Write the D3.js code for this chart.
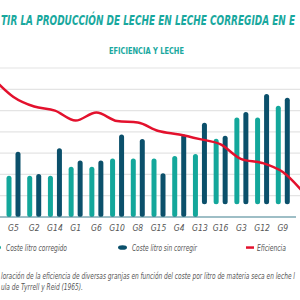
<!DOCTYPE html>
<html>
<head>
<meta charset="utf-8">
<script src="https://cdn.jsdelivr.net/npm/d3@7"></script>
<style>
  body { margin: 0; background: #fff; }
  svg { display: block; }
  text { font-family: "Liberation Sans Narrow", "DejaVu Sans Condensed", sans-serif; }
</style>
</head>
<body>
<svg id="chart" width="300" height="300"></svg>
<script>
// granjas (eje x)
var granjas = ["G5","G2","G14","G1","G6","G10","G8","G15","G4","G13","G16","G3","G12","G9"];
// coste litro corregido / sin corregir
var costeCorregido = [19.4,19.4,19.4,23.6,23.6,27.5,27.5,27.5,28.7,29.6,36.8,46.8,46.8,52.3];
var costeSinCorregir = [30.7,20.2,32.3,26.5,26.5,38.8,36.6,20.5,38.8,44.3,38.2,49.3,57.8,56.0];
// arranque de las barras (en la imagen las ultimas no llegan al eje)
var baseCorregido = [0,0,0,0,0,0,0,0,0,0,6,6,6,6];
var baseSinCorregir = [0,0,0,0,0,0,0,0,0,6,6,6,6,6];
// eficiencia, con un punto extra a cada lado (fuera del recorte)
var eficiencia = [56.4,51.9,50.0,45.3,49.1,45.1,44.4,40.4,38.8,36.6,34.1,27.2,25.4,21.1];
var eficienciaBordes = [65.3, 11.5];
var gridTicks = [0,10,20,30,40,50,60,70];

var legendItems = ["Coste litro corregido","Coste litro sin corregir","Eficiencia"];

var tealColor = "#13a79b", darkColor = "#0b506b", redColor = "#e3112d";

var svg = d3.select("#chart");

var xScale = d3.scalePoint().domain(granjas).range([13.5, 282.8]);
var step = xScale.step();
var yScale = d3.scaleLinear().domain([0, 70]).range([217, 68]);

// titulos
svg.append("text")
	.attr("x", 1).attr("y", 25)
	.attr("textLength", 294).attr("lengthAdjust", "spacingAndGlyphs")
	.style("font-size", "14px").style("font-weight", "bold").style("font-style", "italic")
	.style("fill", "#19a89e")
	.text("TIR LA PRODUCCIÓN DE LECHE EN LECHE CORREGIDA EN E");

svg.append("text")
	.attr("x", 109).attr("y", 54)
	.attr("textLength", 75).attr("lengthAdjust", "spacingAndGlyphs")
	.style("font-size", "9.5px").style("font-weight", "bold")
	.style("fill", "#19a89e")
	.text("EFICIENCIA Y LECHE");

// rejilla
svg.append("g").selectAll("line")
	.data(gridTicks.slice(1))
	.enter().append("line")
	.attr("x1", 0).attr("x2", 300)
	.attr("y1", function(d){ return yScale(d); })
	.attr("y2", function(d){ return yScale(d); })
	.style("stroke", "#e4e4e4").style("stroke-width", 1.2);

// barras
var barW = 5;
var bars = svg.append("g");
bars.selectAll("rect.corr")
	.data(granjas)
	.enter().append("rect")
	.attr("class", "corr")
	.attr("x", function(d){ return xScale(d) - 4.5 - barW/2; })
	.attr("y", function(d, i){ return yScale(costeCorregido[i]); })
	.attr("width", barW)
	.attr("height", function(d, i){ return yScale(baseCorregido[i]) - yScale(costeCorregido[i]); })
	.attr("rx", barW/2)
	.style("fill", tealColor);
bars.selectAll("rect.sin")
	.data(granjas)
	.enter().append("rect")
	.attr("class", "sin")
	.attr("x", function(d){ return xScale(d) + 4.5 - barW/2; })
	.attr("y", function(d, i){ return yScale(costeSinCorregir[i]); })
	.attr("width", barW)
	.attr("height", function(d, i){ return yScale(baseSinCorregir[i]) - yScale(costeSinCorregir[i]); })
	.attr("rx", barW/2)
	.style("fill", darkColor);

// eje x
svg.append("line")
	.attr("x1", 0).attr("x2", 296)
	.attr("y1", yScale(0)).attr("y2", yScale(0))
	.style("stroke", "#3f7f8e").style("stroke-width", 1.2);

svg.append("g").selectAll("text")
	.data(granjas)
	.enter().append("text")
	.attr("x", function(d){ return xScale(d); })
	.attr("y", 231)
	.attr("text-anchor", "middle")
	.style("font-size", "8.5px").style("font-style", "italic")
	.style("fill", "#555")
	.text(function(d){ return d; });

// linea de eficiencia
var linePts = [{x: xScale(granjas[0]) - step, v: eficienciaBordes[0]}];
granjas.forEach(function(g, i){ linePts.push({x: xScale(g), v: eficiencia[i]}); });
linePts.push({x: xScale(granjas[granjas.length-1]) + step, v: eficienciaBordes[1]});

var line = d3.line()
	.x(function(d){ return d.x; })
	.y(function(d){ return yScale(d.v); })
	.curve(d3.curveMonotoneX);

svg.append("path")
	.attr("d", line(linePts))
	.style("fill", "none")
	.style("stroke", redColor).style("stroke-width", 2.5);

// leyenda
var lg = svg.append("g").style("font-size", "8.5px").style("font-style", "italic").style("fill", "#555");
lg.append("ellipse").attr("cx", -2).attr("cy", 247.5).attr("rx", 3).attr("ry", 2.2).style("fill", tealColor);
lg.append("text").attr("x", 6).attr("y", 250.5).attr("textLength", 61).attr("lengthAdjust", "spacingAndGlyphs").text(legendItems[0]);
lg.append("ellipse").attr("cx", 122.5).attr("cy", 247.5).attr("rx", 4.5).attr("ry", 2.3).style("fill", darkColor);
lg.append("text").attr("x", 132).attr("y", 250.5).attr("textLength", 65).attr("lengthAdjust", "spacingAndGlyphs").text(legendItems[1]);
lg.append("rect").attr("x", 246).attr("y", 246.3).attr("width", 8).attr("height", 2.5).style("fill", redColor);
lg.append("text").attr("x", 257).attr("y", 250.5).attr("textLength", 29).attr("lengthAdjust", "spacingAndGlyphs").text(legendItems[2]);

// pie
var pie = svg.append("g").style("font-size", "9px").style("font-style", "italic").style("fill", "#555");
pie.append("text").attr("x", 1).attr("y", 278.5).attr("textLength", 294).attr("lengthAdjust", "spacingAndGlyphs")
	.text("loración de la eficiencia de diversas granjas en función del coste por litro de materia seca en leche l");
pie.append("text").attr("x", 1).attr("y", 289.5).attr("textLength", 82).attr("lengthAdjust", "spacingAndGlyphs")
	.text("ula de Tyrrell y Reid (1965).");
</script>
</body>
</html>
